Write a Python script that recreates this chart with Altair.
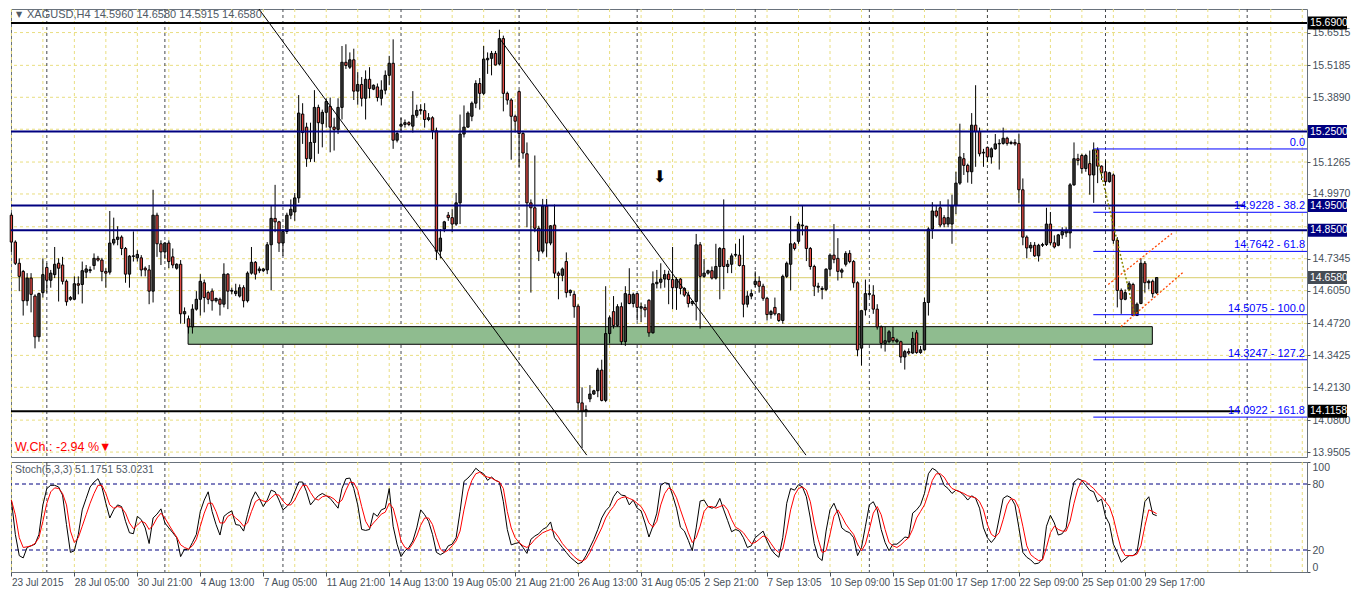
import json
import altair as alt
import pandas as pd

# ---------------- data ----------------
OPEN = [14.911,14.802,14.716,14.683,14.564,14.656,14.583,14.418,14.597,14.699,
14.647,14.670,14.716,14.709,14.643,14.570,14.570,14.633,14.630,14.680,
14.686,14.707,14.736,14.729,14.683,14.680,14.798,14.813,14.822,14.776,
14.672,14.744,14.738,14.738,14.696,14.689,14.603,14.911,14.795,14.762,
14.798,14.742,14.696,14.712,14.511,14.491,14.458,14.530,14.570,14.637,
14.597,14.603,14.564,14.570,14.550,14.672,14.603,14.593,14.583,14.617,
14.564,14.676,14.720,14.686,14.686,14.689,14.791,14.898,14.884,14.798,
14.845,14.911,14.924,14.981,15.321,15.268,15.140,15.206,15.348,15.282,
15.328,15.352,15.268,15.259,15.348,15.531,15.511,15.541,15.414,15.441,
15.385,15.462,15.422,15.431,15.385,15.418,15.478,15.527,15.215,15.272,
15.279,15.286,15.272,15.316,15.339,15.335,15.299,15.306,15.253,14.765,
14.855,14.911,14.901,14.875,14.961,15.240,15.268,15.312,15.365,15.445,
15.405,15.541,15.547,15.567,15.524,15.627,15.405,15.378,15.312,15.412,
15.242,15.160,14.961,14.941,14.858,14.765,14.948,14.798,14.871,14.676,
14.667,14.723,14.597,14.590,14.542,14.150,14.116,14.166,14.186,14.199,
14.283,14.160,14.431,14.520,14.464,14.540,14.398,14.590,14.553,14.593,
14.534,14.537,14.566,14.434,14.633,14.639,14.652,14.672,14.650,14.617,
14.652,14.614,14.587,14.553,14.561,14.791,14.663,14.676,14.686,14.656,
14.703,14.776,14.703,14.712,14.749,14.749,14.707,14.550,14.583,14.630,
14.643,14.623,14.574,14.508,14.537,14.511,14.484,14.663,14.712,14.795,
14.805,14.868,14.866,14.776,14.703,14.619,14.610,14.610,14.692,14.749,
14.736,14.680,14.712,14.756,14.723,14.637,14.372,14.527,14.590,14.587,
14.530,14.458,14.391,14.398,14.415,14.398,14.398,14.336,14.358,14.352,
14.434,14.354,14.365,14.557,14.855,14.928,14.941,14.901,14.875,14.875,
14.950,15.041,15.140,15.113,15.087,15.276,15.250,15.163,15.186,15.147,
15.180,15.200,15.202,15.223,15.202,15.206,15.202,15.014,14.822,14.778,
14.789,14.746,14.789,14.792,14.875,14.799,14.789,14.831,14.839,14.839,
15.034,15.140,15.153,15.100,15.120,15.074,15.176,15.110,15.087,15.047,
15.074,14.809,14.606,14.570,14.610,14.630,14.504,14.553,14.716,14.637,
14.643,14.596]
HIGH = [14.921,14.809,14.736,14.689,14.676,14.676,14.590,14.597,14.736,14.716,
14.689,14.782,14.736,14.742,14.650,14.583,14.663,14.663,14.723,14.709,
14.703,14.756,14.746,14.738,14.696,14.928,14.901,14.866,14.829,14.782,
14.749,14.845,14.769,14.749,14.703,14.709,15.014,14.921,14.809,14.802,
14.809,14.776,14.716,14.729,14.537,14.504,14.550,14.603,14.672,14.650,
14.603,14.614,14.577,14.577,14.716,14.676,14.617,14.633,14.630,14.627,
14.683,14.782,14.725,14.703,14.696,14.802,14.948,15.034,14.888,14.855,
14.921,14.975,15.001,15.398,15.365,15.286,15.286,15.418,15.359,15.339,
15.385,15.388,15.306,15.385,15.597,15.604,15.571,15.586,15.491,15.471,
15.498,15.511,15.441,15.445,15.458,15.498,15.557,15.624,15.253,15.306,
15.299,15.292,15.414,15.359,15.361,15.365,15.325,15.312,15.266,14.855,
14.888,14.924,14.935,15.001,15.319,15.356,15.332,15.372,15.458,15.467,
15.597,15.571,15.577,15.577,15.663,15.639,15.412,15.385,15.319,15.418,
15.253,15.206,14.975,15.153,14.868,14.977,14.977,14.871,14.954,14.683,
14.699,14.760,14.610,14.603,14.550,14.213,14.140,14.222,14.203,14.292,
14.325,14.623,14.504,14.583,14.550,14.557,14.623,14.696,14.597,14.593,
14.557,14.550,14.570,14.683,14.689,14.716,14.689,14.686,14.782,14.659,
14.656,14.619,14.601,14.564,14.835,14.802,14.733,14.690,14.703,14.795,
14.782,14.975,14.729,14.756,14.795,14.815,14.829,14.603,14.610,14.683,
14.663,14.633,14.580,14.527,14.577,14.513,14.670,14.723,14.908,14.802,
14.884,14.948,14.868,14.782,14.710,14.637,14.623,14.696,14.756,14.875,
14.818,14.696,14.765,14.769,14.729,14.643,14.524,14.650,14.630,14.627,
14.550,14.464,14.458,14.445,14.458,14.411,14.402,14.365,14.371,14.438,
14.445,14.381,14.577,14.862,14.964,14.948,14.968,14.911,14.975,14.994,
15.087,15.282,15.163,15.120,15.325,15.438,15.266,15.180,15.189,15.186,
15.240,15.219,15.266,15.229,15.213,15.219,15.242,15.060,14.829,14.802,
14.802,14.795,14.799,14.941,14.924,14.829,14.835,14.862,14.862,15.041,
15.206,15.160,15.160,15.160,15.173,15.206,15.186,15.113,15.133,15.087,
15.080,14.822,14.614,14.610,14.643,14.637,14.557,14.736,14.725,14.650,
14.650,14.658]
LOW = [14.762,14.709,14.603,14.504,14.544,14.517,14.371,14.398,14.577,14.597,
14.617,14.656,14.561,14.630,14.544,14.564,14.566,14.590,14.553,14.656,
14.676,14.690,14.723,14.643,14.617,14.670,14.789,14.789,14.749,14.637,
14.617,14.723,14.723,14.663,14.663,14.550,14.557,14.742,14.709,14.735,
14.696,14.696,14.690,14.471,14.471,14.431,14.431,14.524,14.504,14.517,
14.550,14.524,14.557,14.504,14.537,14.530,14.590,14.583,14.577,14.537,
14.557,14.670,14.650,14.676,14.680,14.672,14.606,14.842,14.762,14.746,
14.835,14.895,14.888,14.961,15.200,15.107,15.127,15.127,15.160,15.186,
15.266,15.166,15.173,15.240,15.299,15.504,15.504,15.378,15.359,15.352,
15.299,15.385,15.418,15.372,15.356,15.401,15.438,15.180,15.206,15.246,
15.266,15.272,15.246,15.306,15.319,15.266,15.292,15.219,14.729,14.736,
14.842,14.888,14.842,14.868,14.875,15.226,15.266,15.292,15.345,15.339,
15.398,15.484,15.478,15.518,15.518,15.332,15.359,15.136,15.246,15.107,
15.140,14.862,14.597,14.842,14.725,14.756,14.742,14.789,14.656,14.570,
14.643,14.577,14.583,14.495,14.120,13.967,14.093,14.153,14.182,14.173,
14.156,14.153,14.391,14.451,14.458,14.385,14.381,14.550,14.537,14.484,
14.478,14.497,14.418,14.431,14.614,14.614,14.617,14.550,14.530,14.527,
14.590,14.580,14.537,14.544,14.484,14.451,14.656,14.670,14.650,14.650,
14.570,14.610,14.676,14.676,14.742,14.703,14.497,14.537,14.570,14.619,
14.597,14.564,14.484,14.491,14.504,14.478,14.471,14.656,14.606,14.768,
14.795,14.829,14.725,14.690,14.583,14.597,14.570,14.603,14.663,14.716,
14.646,14.656,14.703,14.716,14.617,14.339,14.301,14.504,14.580,14.511,
14.447,14.371,14.358,14.391,14.394,14.391,14.312,14.285,14.345,14.349,
14.349,14.349,14.362,14.504,14.815,14.901,14.862,14.862,14.862,14.795,
14.915,15.034,15.074,15.043,15.038,15.107,15.149,15.107,15.127,15.120,
15.176,15.096,15.197,15.193,15.197,15.193,14.961,14.789,14.736,14.762,
14.742,14.723,14.782,14.786,14.789,14.776,14.785,14.815,14.822,14.776,
15.030,15.113,15.080,15.087,14.994,14.961,15.041,15.054,15.034,15.043,
14.795,14.537,14.511,14.566,14.603,14.5075,14.5075,14.550,14.597,14.610,
14.577,14.5915]
CLOSE = [14.802,14.716,14.663,14.564,14.656,14.590,14.418,14.593,14.670,14.647,
14.676,14.712,14.696,14.643,14.560,14.577,14.633,14.627,14.686,14.693,
14.690,14.736,14.729,14.683,14.676,14.798,14.813,14.822,14.776,14.672,
14.745,14.746,14.752,14.689,14.689,14.603,14.911,14.795,14.762,14.798,
14.723,14.709,14.712,14.511,14.520,14.458,14.530,14.570,14.643,14.577,
14.570,14.564,14.573,14.550,14.672,14.603,14.606,14.603,14.617,14.564,
14.676,14.720,14.672,14.693,14.693,14.791,14.898,14.884,14.798,14.845,
14.911,14.935,14.981,15.325,15.246,15.140,15.206,15.348,15.286,15.328,
15.372,15.268,15.259,15.348,15.531,15.518,15.541,15.414,15.441,15.385,
15.462,15.425,15.438,15.388,15.418,15.478,15.527,15.215,15.242,15.279,
15.286,15.279,15.316,15.336,15.335,15.299,15.306,15.253,14.765,14.818,
14.884,14.901,14.875,14.961,15.240,15.268,15.325,15.365,15.445,15.405,
15.544,15.547,15.567,15.520,15.627,15.405,15.378,15.312,15.292,15.242,
15.163,14.961,14.941,14.858,14.765,14.948,14.798,14.868,14.676,14.667,
14.693,14.597,14.606,14.540,14.150,14.116,14.122,14.186,14.199,14.283,
14.160,14.431,14.495,14.464,14.540,14.398,14.593,14.553,14.590,14.537,
14.540,14.527,14.434,14.633,14.639,14.652,14.670,14.650,14.617,14.650,
14.614,14.587,14.553,14.561,14.791,14.663,14.676,14.686,14.656,14.703,
14.776,14.703,14.712,14.746,14.752,14.707,14.550,14.583,14.593,14.643,
14.623,14.574,14.508,14.520,14.511,14.484,14.663,14.716,14.795,14.776,
14.875,14.871,14.776,14.703,14.623,14.623,14.614,14.692,14.749,14.732,
14.683,14.689,14.756,14.723,14.637,14.365,14.524,14.593,14.593,14.530,
14.458,14.391,14.402,14.438,14.402,14.405,14.336,14.358,14.352,14.411,
14.354,14.365,14.557,14.855,14.928,14.908,14.871,14.875,14.901,14.950,
15.041,15.147,15.113,15.087,15.276,15.250,15.160,15.166,15.147,15.180,
15.200,15.202,15.223,15.202,15.206,15.200,15.014,14.822,14.778,14.789,
14.746,14.789,14.792,14.875,14.799,14.782,14.831,14.845,14.848,15.034,
15.140,15.133,15.100,15.153,15.074,15.176,15.110,15.083,15.047,15.083,
14.809,14.606,14.570,14.597,14.633,14.504,14.550,14.716,14.637,14.643,
14.593,14.658]

STOCH_K = [65.4,34.2,14.9,12.8,22.3,23.8,25.3,34.2,61.0,75.9,
78.8,78.8,77.3,69.9,43.1,17.8,19.3,34.2,56.5,66.9,
77.3,81.8,84.8,77.3,62.5,49.1,56.5,61.0,59.5,46.1,
35.7,34.8,50.6,47.6,40.1,25.9,49.1,52.6,57.4,44.6,
40.1,35.7,31.2,14.0,20.8,19.9,26.8,34.2,55.0,65.4,
72.9,55.0,43.1,33.6,50.6,53.5,55.6,43.1,42.5,37.2,
52.1,65.4,72.9,66.9,59.5,65.4,74.4,72.9,65.4,56.5,
59.5,63.9,72.9,81.8,81.8,72.9,61.0,65.4,69.3,71.4,
69.3,66.9,62.5,58.0,75.9,84.8,85.4,75.9,61.0,38.7,
37.8,38.7,53.5,50.6,56.5,58.0,75.9,41.6,25.3,14.0,
19.3,22.3,28.2,40.1,56.5,52.1,46.1,34.2,17.8,15.7,
17.8,23.8,
25.3,31.2,55.0,82.4,85.4,89.3,94.3,91.3,89.3,83.3,
86.3,83.3,81.8,63.9,38.7,24.7,25.9,26.8,22.3,16.9,
29.7,32.7,34.8,38.7,40.7,45.5,31.2,26.8,22.3,17.8,
13.4,10.4,7.4,8.9,14.9,22.3,29.7,38.7,49.1,55.6,
59.5,68.4,73.5,69.9,69.3,61.0,65.4,58.0,55.6,44.6,
31.8,41.6,53.5,78.8,81.2,80.3,69.9,58.0,40.7,37.2,
28.8,19.3,40.1,64.5,65.4,59.5,58.0,59.5,66.9,56.5,
46.7,36.6,38.7,37.2,31.2,22.3,23.8,31.2,34.2,37.2,
28.2,20.8,16.3,13.4,31.2,62.5,75.9,74.4,79.4,77.3,
68.4,49.1,25.9,13.4,10.4,37.2,56.5,62.5,53.5,40.1,
37.2,35.7,31.2,14.9,22.3,41.6,61.0,63.9,56.5,38.7,
26.8,19.3,25.3,
25.3,28.2,31.8,31.2,53.5,56.5,61.0,71.4,89.3,94.3,
92.2,87.8,78.8,75.9,71.4,74.4,72.9,69.9,65.4,69.3,
66.9,58.0,40.1,31.2,26.8,31.2,49.1,66.9,69.3,67.5,
61.0,40.1,17.8,13.4,11.0,7.4,8.0,11.9,41.6,51.5,
44.6,33.6,34.8,40.1,65.4,81.8,84.8,83.3,78.8,74.4,
72.9,63.9,66.3,50.6,43.7,25.3,17.8,8.9,11.9,14.9,
14.9,17.8,40.1,63.9,68.4,52.6,51.2]
STOCH_D = [65.4,52.1,31.2,22.3,22.9,23.8,25.9,31.2,46.1,62.5,
72.9,76.5,75.9,71.4,61.0,37.2,26.8,31.2,41.6,52.1,
62.5,71.4,78.8,78.8,71.4,61.0,58.0,59.5,58.6,53.5,
44.6,39.5,42.5,46.1,44.6,38.7,42.5,49.1,53.5,49.1,
43.1,37.2,31.8,24.7,22.3,20.8,23.8,29.7,41.6,53.5,
62.5,62.5,55.0,44.6,44.6,50.6,52.6,49.1,46.1,41.6,
44.6,55.0,63.9,66.3,64.5,63.9,67.5,70.5,69.9,64.5,
61.0,61.0,65.4,72.9,78.8,78.8,72.3,66.9,65.4,68.4,
69.3,68.4,66.3,62.5,65.4,74.4,81.8,81.2,74.4,59.5,
46.1,40.1,44.6,48.5,52.6,54.4,62.5,58.0,44.6,28.2,
22.3,20.8,25.9,32.7,42.5,49.1,49.1,43.1,31.2,20.8,
17.8,19.9,
23.8,28.2,37.2,56.5,72.9,83.3,89.3,90.7,87.8,86.3,
85.4,83.3,81.8,75.9,55.0,40.1,31.2,26.8,23.8,22.3,
25.3,29.7,32.7,35.7,37.2,38.7,36.6,31.8,25.9,21.7,
17.8,14.0,11.0,9.8,11.9,17.8,25.3,32.7,40.1,49.1,
55.0,59.5,65.4,67.5,68.4,66.9,65.4,62.5,59.5,53.5,
44.6,40.7,46.1,61.0,71.4,76.5,74.4,67.5,56.5,46.1,
35.7,26.8,31.2,41.6,55.0,59.5,59.5,58.0,59.5,61.0,
56.5,47.6,40.7,38.7,35.7,30.6,25.9,26.8,29.7,32.7,
31.2,25.9,20.8,17.8,20.8,37.2,56.5,69.9,75.9,77.3,
74.4,63.9,44.6,29.7,17.8,19.3,34.2,50.6,56.5,50.6,
43.7,38.7,34.2,25.3,19.3,25.3,38.7,53.5,59.5,52.1,
38.7,26.8,23.8,
22.3,24.7,28.2,31.2,38.7,49.1,55.0,61.0,71.4,83.3,
89.3,89.3,86.3,80.3,75.9,74.4,72.9,71.4,69.3,68.4,
67.5,63.9,56.5,43.1,34.2,31.8,35.7,47.6,61.0,66.9,
65.4,58.0,41.6,23.8,15.7,12.8,10.4,11.0,22.3,35.7,
41.6,38.7,37.2,37.2,46.1,62.5,75.9,83.3,82.4,78.8,
75.9,71.4,68.4,63.9,59.5,49.1,34.2,20.8,14.9,14.9,
14.9,16.3,23.8,41.6,56.5,55.0,53.0]

TIME_LABELS = ["23 Jul 2015", "28 Jul 05:00", "30 Jul 21:00", "4 Aug 13:00", "7 Aug 05:00",
               "11 Aug 21:00", "14 Aug 13:00", "19 Aug 05:00", "21 Aug 21:00", "26 Aug 13:00",
               "31 Aug 05:05", "2 Sep 21:00", "7 Sep 13:05", "10 Sep 09:00", "15 Sep 01:00",
               "17 Sep 17:00", "22 Sep 09:00", "25 Sep 01:00", "29 Sep 17:00"]
LABEL_STEP = 16
Y_TICKS = [15.6515, 15.5185, 15.3890, 15.2595, 15.1265, 14.9970, 14.8640, 14.7345,
           14.6050, 14.4720, 14.3425, 14.2130, 14.0800, 13.9505]
HIDDEN_TICKS = [15.2595, 14.8640]
SEPARATORS = [9, 39, 69, 99, 129, 159, 189, 218, 248, 278, 314]

LEVEL_PRICES = [15.69, 15.25, 14.95, 14.85, 14.1158]
LEVEL_COLORS = ["#000000", "#000080", "#000080", "#000080", "#000000"]
LEVEL_END = [329.2, 329.2, 313.4, 329.2, 312.2]
LAST_PRICE = 14.658

BOX_PRICES = [15.69, 15.25, 14.95, 14.85, 14.658, 14.1158]
BOX_TEXT = ["15.6900", "15.2500", "14.9500", "14.8500", "14.6580", "14.1158"]
BOX_BG = ["#000000", "#000080", "#000080", "#000080", "#454c55", "#000000"]

FIB_PRICES = [15.1795, 14.9228, 14.7642, 14.5075, 14.3247, 14.0922]
FIB_TEXT = ["0.0", "14.9228 - 38.2", "14.7642 - 61.8", "14.5075 - 100.0", "14.3247 - 127.2", "14.0922 - 161.8"]
FIB_START = 274.9

ZONE_X = [44.9, 289.9]
ZONE_P = [14.459, 14.3876]

TREND_I = [62.9, 146.2, 124.2, 201.9]
TREND_P = [15.747, 13.938, 15.624, 13.938]
TREND_G = ["a", "a", "b", "b"]
CHANNEL_I = [278.7, 294.9, 281.9, 297.9]
CHANNEL_P = [14.630, 14.837, 14.459, 14.682]
CHANNEL_G = ["u", "u", "l", "l"]
FIBLINE_I = [275.4, 285.4]
FIBLINE_P = [15.1795, 14.5075]
ARROW_I, ARROW_P = 164.7, 15.067

HEADER = "XAGUSD,H4  14.5960 14.6580 14.5915 14.6580"
STOCH_TITLE = "Stoch(5,3,3) 51.1751 53.0231"
WCH = "W.Ch.: -2.94 %\u25BC"

# ---------------- layout ----------------
W, H1, H2 = 1296, 448, 110
XDOM = [-0.1, 329.2]
YDOM = [13.9305, 15.747]
TXT = "#46505a"
FONT = "Liberation Sans"
GRIDC = "#e9de80"
BULL, BEAR = "#3a3a3a", "#e04a45"

xs = alt.Scale(domain=XDOM, nice=False, zero=False)
ys = alt.Scale(domain=YDOM, nice=False, zero=False)
hidden = "||".join(f"datum.value=={v}" for v in HIDDEN_TICKS)
yaxis = alt.Axis(orient="right", values=Y_TICKS,
                 labelExpr=f"({hidden})?'':format(datum.value,'.4f')",
                 grid=False, tickSize=3, tickColor=TXT, labelColor=TXT, labelFont=FONT,
                 labelFontSize=10.5, labelPadding=2, domain=False, title=None)


def X(f):
    return alt.X(f, type="quantitative", scale=xs, axis=None)


def Y(f):
    return alt.Y(f, type="quantitative", scale=ys, axis=yaxis)


grid_x = pd.DataFrame({"i": list(range(0, 330, 8))})
seps = pd.DataFrame({"i": SEPARATORS})
grid_y = pd.DataFrame({"p": Y_TICKS})

vgrid = alt.Chart(grid_x).mark_rule(color=GRIDC, strokeDash=[3, 3], strokeWidth=1).encode(x=X("i:Q"))
hgrid = alt.Chart(grid_y).mark_rule(color=GRIDC, strokeDash=[3, 3], strokeWidth=1).encode(y=Y("p:Q"))
vsep = alt.Chart(seps).mark_rule(color="#45484d", strokeDash=[3, 3], strokeWidth=1).encode(x=X("i:Q"))

zone = alt.Chart(pd.DataFrame({"x0": [ZONE_X[0]], "x1": [ZONE_X[1]], "p0": [ZONE_P[0]], "p1": [ZONE_P[1]]})).mark_rect(
    fill="#8fbc8f", stroke="black", strokeWidth=1).encode(x=X("x0:Q"), x2="x1:Q", y=Y("p0:Q"), y2="p1:Q")

pline = alt.Chart(pd.DataFrame({"p": [LAST_PRICE]})).mark_rule(color="#e0d788", strokeWidth=1.2).encode(y=Y("p:Q"))

cd = pd.DataFrame({"i": list(range(len(OPEN))), "o": OPEN, "h": HIGH, "l": LOW, "c": CLOSE})
wicks = alt.Chart(cd).mark_rule(color="black", strokeWidth=1).encode(x=X("i:Q"), y=Y("l:Q"), y2="h:Q")
bodies = alt.Chart(cd).transform_calculate(
    x0="datum.i-0.3", x1="datum.i+0.3", dir="datum.c>=datum.o?'bull':'bear'"
).mark_rect(stroke="black", strokeWidth=1).encode(
    x=X("x0:Q"), x2="x1:Q", y=Y("o:Q"), y2="c:Q",
    color=alt.Color("dir:N", scale=alt.Scale(domain=["bull", "bear"], range=[BULL, BEAR]), legend=None))

lv = pd.DataFrame({"p": LEVEL_PRICES, "x0": [XDOM[0]] * len(LEVEL_PRICES), "x1": LEVEL_END, "col": LEVEL_COLORS})
levels = alt.Chart(lv).mark_rule(strokeWidth=2).encode(
    x=X("x0:Q"), x2="x1:Q", y=Y("p:Q"), color=alt.Color("col:N", scale=None))

fd = pd.DataFrame({"p": FIB_PRICES, "t": FIB_TEXT, "x0": [FIB_START] * 6, "x1": [XDOM[1]] * 6})
fibl = alt.Chart(fd).mark_rule(color="#0000ff", strokeWidth=1).encode(x=X("x0:Q"), x2="x1:Q", y=Y("p:Q"))
fibt = alt.Chart(fd).mark_text(align="right", baseline="bottom", dy=-1, color="#0000ff", font=FONT,
                               fontSize=11).encode(y=Y("p:Q"), x=alt.value(W - 2), text="t:N")

trend = alt.Chart(pd.DataFrame({"i": TREND_I, "p": TREND_P, "g": TREND_G})).mark_line(
    color="black", strokeWidth=1, clip=True).encode(x=X("i:Q"), y=Y("p:Q"), detail="g:N")
chan = alt.Chart(pd.DataFrame({"i": CHANNEL_I, "p": CHANNEL_P, "g": CHANNEL_G})).mark_line(
    color="#ff4500", strokeWidth=1.3, strokeDash=[2, 2]).encode(x=X("i:Q"), y=Y("p:Q"), detail="g:N")
fibline = alt.Chart(pd.DataFrame({"i": FIBLINE_I, "p": FIBLINE_P})).mark_line(
    color="#8a8a00", strokeWidth=1.5, strokeDash=[2, 2]).encode(x=X("i:Q"), y=Y("p:Q"))

arrow = alt.Chart(pd.DataFrame({"i": [ARROW_I], "p": [ARROW_P], "t": ["\u2B07"]})).mark_text(
    fontSize=16, color="black", font="DejaVu Sans").encode(x=X("i:Q"), y=Y("p:Q"), text="t:N")

hdr_tri = alt.Chart(pd.DataFrame({"t": ["\u25BC"]})).mark_text(
    align="left", fontSize=8, color="#505a66", font="DejaVu Sans").encode(x=alt.value(5), y=alt.value(6), text="t:N")
hdr = alt.Chart(pd.DataFrame({"t": [HEADER]})).mark_text(
    align="left", fontSize=11, color="#505a66", font=FONT).encode(x=alt.value(16), y=alt.value(6), text="t:N")
wch = alt.Chart(pd.DataFrame({"t": [WCH]})).mark_text(
    align="left", fontSize=12.5, color="#ff0000", font=FONT).encode(x=alt.value(4), y=alt.value(438), text="t:N")

bx = pd.DataFrame({"p": BOX_PRICES, "t": BOX_TEXT, "bg": BOX_BG})
boxes = alt.Chart(bx).mark_rule(strokeWidth=13, strokeCap="butt").encode(
    y=Y("p:Q"), x=alt.value(W + 1), x2=alt.value(W + 40), color=alt.Color("bg:N", scale=None))
boxt = alt.Chart(bx).mark_text(align="left", color="white", font=FONT, fontSize=10.5).encode(
    y=Y("p:Q"), x=alt.value(W + 3), text="t:N")

main = alt.layer(vgrid, hgrid, vsep, zone, pline, wicks, bodies, levels, fibl, trend, chan, fibline,
                 fibt, arrow, hdr_tri, hdr, wch, boxes, boxt).properties(width=W, height=H1)

# ---------------- stochastic pane ----------------
xs2 = alt.Scale(domain=XDOM, nice=False, zero=False)
ys2 = alt.Scale(domain=[0, 100], nice=False, zero=False)
label_idx = [k * LABEL_STEP for k in range(len(TIME_LABELS))]
xaxis2 = alt.Axis(values=label_idx, labelExpr=f"{json.dumps(TIME_LABELS)}[round(datum.value/{LABEL_STEP})]",
                  labelAlign="left", labelBaseline="top", tickSize=4, tickColor=TXT, labelColor=TXT,
                  labelFont=FONT, labelFontSize=10, labelPadding=1, grid=False, domain=False,
                  title=None, labelOverlap=False, labelBound=False, labelFlush=False)
yaxis2 = alt.Axis(orient="right", values=[0, 20, 80, 100], format="d", labelFlush=True, grid=False,
                  tickSize=3, tickColor=TXT, labelColor=TXT, labelFont=FONT, labelFontSize=10.5,
                  labelPadding=2, domain=False, title=None)


def X2(f):
    return alt.X(f, type="quantitative", scale=xs2, axis=xaxis2)


def Y2(f):
    return alt.Y(f, type="quantitative", scale=ys2, axis=yaxis2)


sd = pd.DataFrame({"i": list(range(len(STOCH_K))), "k": STOCH_K, "d": STOCH_D})
vgrid2 = alt.Chart(grid_x).mark_rule(color=GRIDC, strokeDash=[3, 3], strokeWidth=1).encode(x=X2("i:Q"))
vsep2 = alt.Chart(seps).mark_rule(color="#45484d", strokeDash=[3, 3], strokeWidth=1).encode(x=X2("i:Q"))
slev = alt.Chart(pd.DataFrame({"v": [20, 80]})).mark_rule(color="#000080", strokeDash=[4, 3], strokeWidth=1).encode(y=Y2("v:Q"))
kline = alt.Chart(sd).mark_line(color="black", strokeWidth=1).encode(x=X2("i:Q"), y=Y2("k:Q"))
dline = alt.Chart(sd).mark_line(color="#ff0000", strokeWidth=1).encode(x=X2("i:Q"), y=Y2("d:Q"))
stitle = alt.Chart(pd.DataFrame({"t": [STOCH_TITLE]})).mark_text(
    align="left", fontSize=10.5, color="#505a66", font=FONT).encode(x=alt.value(4), y=alt.value(8), text="t:N")

stoch = alt.layer(vgrid2, vsep2, slev, kline, dline, stitle).properties(width=W, height=H2)

chart = alt.vconcat(main, stoch, spacing=2).properties(padding=0, background="white").configure_view(
    stroke="#69727c", strokeWidth=1)

chart.save("out.html", embed_options={"renderer": "svg", "actions": False})
